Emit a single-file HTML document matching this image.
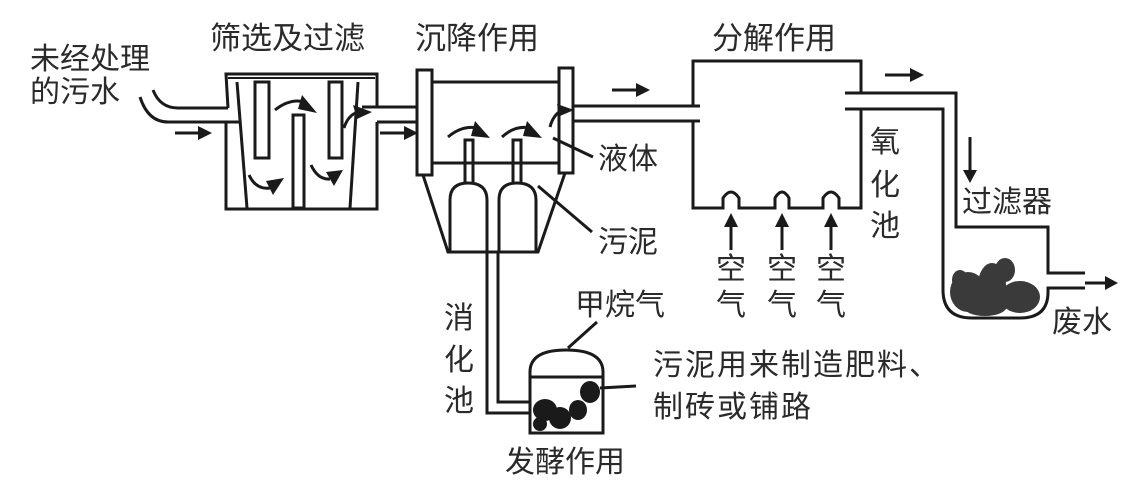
<!DOCTYPE html>
<html><head><meta charset="utf-8"><style>
html,body{margin:0;padding:0;background:#fff;}
svg{display:block;}
text{font-family:"Liberation Sans","Noto Sans CJK SC",sans-serif;fill:#2a2a2a;font-size:30px;}
.t{font-size:31px;}
</style></head><body>
<svg width="1147" height="484" viewBox="0 0 1147 484" xmlns="http://www.w3.org/2000/svg">
<g fill="none" stroke="#1a1a1a" stroke-width="3">
<path d="M153,90 Q160,108 178,108 L228,108"/>
<path d="M140,97 Q148,122 168,122 L240,122"/>
<path d="M228,108 L226,74 L377,74 L377,107"/>
<path d="M226,122 L226,209 L377,209 L377,122"/>
<line x1="228" y1="78" x2="375" y2="78" stroke-width="2"/>
<line x1="237" y1="82" x2="247" y2="208"/>
<line x1="358" y1="82" x2="350" y2="208"/>
<rect x="255" y="82" width="14" height="76"/>
<rect x="329" y="82" width="13" height="76"/>
<rect x="293" y="115" width="11" height="93"/>
<line x1="362" y1="107" x2="417" y2="107"/>
<line x1="377" y1="122" x2="417" y2="122"/>
<rect x="417" y="70" width="15" height="105"/>
<rect x="559" y="68" width="14" height="105"/>
<line x1="432" y1="82" x2="559" y2="82"/>
<line x1="432" y1="163" x2="559" y2="163"/>
<path d="M423,175 L448,252 L538,252 L565,173"/>
<path d="M465,183 L465,140 L473,140 L473,183"/>
<path d="M513,183 L513,140 L521,140 L521,183"/>
<path d="M450,252 L450,200 Q450,183 468,183 Q487,183 487,200 L487,252"/>
<path d="M499,252 L499,200 Q499,183 517,183 Q536,183 536,200 L536,252"/>
<path d="M487,252 L487,413 L530,413"/>
<path d="M498,252 L498,402 L530,402"/>
<path d="M530,433 L530,372 Q530,350 566,350 Q603,350 603,372 L603,433 Z"/>
<line x1="530" y1="377" x2="603" y2="377"/>
<line x1="568" y1="348" x2="597" y2="322"/>
<line x1="600" y1="388" x2="636" y2="386"/>
<line x1="573" y1="106" x2="700" y2="106"/>
<line x1="573" y1="121" x2="700" y2="121"/>
<path d="M693,106 L693,61 L861,61 L861,93"/>
<path d="M693,121 L693,208 L723,208 L723,198 Q731,186 739,198 L739,208 L775,208 L775,198 Q782,186 789,198 L789,208 L823,208 L823,198 Q831,186 839,198 L839,208 L861,208 L861,109"/>
<path d="M845,93 L956,93 L956,227 L1048,227 L1048,273 L1085,273"/>
<path d="M845,109 L943,109 L943,290 Q943,318 972,318 L1020,318 Q1048,318 1048,292 L1048,288 L1085,288"/>
<line x1="553" y1="138" x2="593" y2="157"/>
<line x1="538" y1="186" x2="592" y2="232"/>
<line x1="175" y1="133" x2="198" y2="133"/>
<line x1="380" y1="133" x2="404" y2="133"/>
<line x1="612" y1="90" x2="636" y2="90"/>
<line x1="885" y1="75" x2="910" y2="75"/>
<line x1="1085" y1="283" x2="1105" y2="283"/>
<line x1="970" y1="137" x2="970" y2="170"/>
<line x1="731" y1="250" x2="731" y2="226"/>
<line x1="782" y1="250" x2="782" y2="226"/>
<line x1="831" y1="250" x2="831" y2="226"/>
<path d="M275,110 Q290,98 305,102"/>
<path d="M249,175 Q256,190 270,188"/>
<path d="M311,165 Q318,180 330,179"/>
<path d="M344,128 Q348,115 358,112"/>
<path d="M448,137 Q462,125 478,128"/>
<path d="M502,137 Q515,125 530,128"/>
<path d="M550,127 Q553,115 562,110"/>
</g>
<g fill="#1a1a1a">
<path d="M198,126 L212,133 L198,140Z"/>
<path d="M404,126 L418,133 L404,140Z"/>
<path d="M636,83 L650,90 L636,97Z"/>
<path d="M910,68 L924,75 L910,82Z"/>
<path d="M1105,276 L1118,283 L1105,290Z"/>
<path d="M963,170 L970,183 L977,170Z"/>
<path d="M724,227 L731,213 L738,227Z"/>
<path d="M775,227 L782,213 L789,227Z"/>
<path d="M824,227 L831,213 L838,227Z"/>
<path d="M302,95 L317,113 L298,109Z"/>
<path d="M266,181 L284,178 L273,195Z"/>
<path d="M326,172 L343,170 L334,186Z"/>
<path d="M353,105 L372,112 L357,119Z"/>
<path d="M475,121 L490,138 L471,136Z"/>
<path d="M527,121 L542,138 L523,136Z"/>
<path d="M557,104 L574,110 L560,116Z"/>
<ellipse cx="545" cy="410" rx="12" ry="11"/>
<ellipse cx="560" cy="418" rx="11" ry="11"/>
<ellipse cx="590" cy="392" rx="10" ry="11"/>
<ellipse cx="578" cy="410" rx="9" ry="10"/>
<ellipse cx="540" cy="424" rx="7" ry="7"/>
</g>
<g fill="#3a3a3a">
<ellipse cx="968" cy="292" rx="18" ry="20"/>
<ellipse cx="992" cy="285" rx="14" ry="22"/>
<ellipse cx="1020" cy="297" rx="20" ry="16"/>
<ellipse cx="985" cy="306" rx="22" ry="10"/>
<ellipse cx="1005" cy="270" rx="10" ry="12"/>
<ellipse cx="960" cy="280" rx="8" ry="10"/>
</g>
<text class="t" x="210" y="49">筛选及过滤</text>
<text class="t" x="415" y="49">沉降作用</text>
<text class="t" x="712" y="49">分解作用</text>
<text x="30" y="69">未经处理</text>
<text x="30" y="102">的污水</text>
<text x="598" y="169">液体</text>
<text x="598" y="252">污泥</text>
<text x="870" y="152">氧</text>
<text x="870" y="195">化</text>
<text x="870" y="236">池</text>
<text x="962" y="212">过滤器</text>
<text x="1052" y="332">废水</text>
<text x="716" y="279">空</text><text x="767" y="279">空</text><text x="816" y="279">空</text>
<text x="716" y="315">气</text><text x="767" y="315">气</text><text x="816" y="315">气</text>
<text x="575" y="315">甲烷气</text>
<text x="653" y="375" letter-spacing="2">污泥用来制造肥料、</text>
<text x="653" y="417" letter-spacing="2">制砖或铺路</text>
<text x="505" y="472">发酵作用</text>
<text x="444" y="328">消</text>
<text x="444" y="370">化</text>
<text x="444" y="411">池</text>
</svg>
</body></html>
